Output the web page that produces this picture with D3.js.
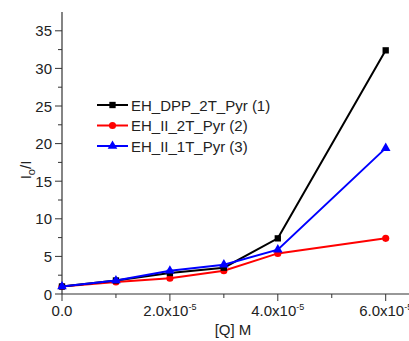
<!DOCTYPE html>
<html>
<head>
<meta charset="utf-8">
<script src="https://cdn.jsdelivr.net/npm/d3@7"></script>
<style>
  body { margin: 0; background: #fff; }
  text { font-family: "Liberation Sans", Arial, sans-serif; fill: #222; }
</style>
</head>
<body>
<div id="chart"></div>
<script>
// Quencher concentration (M) and I0/I values
const conc = [0, 1e-5, 2e-5, 3e-5, 4e-5, 6e-5];
const dpp2t = [1.0, 1.8, 2.8, 3.5, 7.4, 32.4];
const ii2t = [1.0, 1.6, 2.1, 3.1, 5.4, 7.4];
const ii1t = [1.0, 1.8, 3.1, 3.9, 5.9, 19.4];
const seriesNames = ["EH_DPP_2T_Pyr (1)", "EH_II_2T_Pyr (2)", "EH_II_1T_Pyr (3)"];
const seriesColors = ["#000000", "#ff0000", "#0000ff"];
const seriesShapes = [d3.symbolSquare, d3.symbolCircle, d3.symbolTriangle];
const xTicks = [0, 2e-5, 4e-5, 6e-5];
const yTicks = [0, 5, 10, 15, 20, 25, 30, 35];

const width = 409, height = 341;
const margin = { left: 62, top: 12, right: 0, bottom: 47 };
const fs = 15;

const svg = d3.select("#chart").append("svg").attr("width", width).attr("height", height);

const x = d3.scaleLinear().domain([0, 6e-5]).range([margin.left, 385.7]);
const y = d3.scaleLinear().domain([0, 37.5]).range([height - margin.bottom, margin.top]);

// x axis
const xAxis = svg.append("g").attr("transform", `translate(0,${y(0)})`);
xAxis.append("line").attr("x1", margin.left).attr("x2", width).attr("stroke", "#333").attr("stroke-width", 1.2);
xAxis.selectAll(".minor").data(d3.range(1e-5, 7.5e-5, 2e-5)).enter().append("line")
  .attr("x1", (d) => x(d)).attr("x2", (d) => x(d)).attr("y1", 0).attr("y2", 4).attr("stroke", "#333");
xAxis.selectAll(".major").data(xTicks).enter().append("line")
  .attr("x1", (d) => x(d)).attr("x2", (d) => x(d)).attr("y1", 0).attr("y2", 7).attr("stroke", "#333");
const xl = xAxis.selectAll(".lab").data(xTicks).enter().append("text")
  .attr("x", (d) => x(d)).attr("y", 22).attr("text-anchor", "middle").attr("font-size", fs);
xl.each(function (d) {
  const t = d3.select(this);
  if (d === 0) { t.text("0.0"); return; }
  t.append("tspan").text((d * 1e5).toFixed(1) + "x10");
  t.append("tspan").attr("dy", -6).attr("font-size", 9).text("-5");
});
svg.append("text").attr("x", 233).attr("y", 335).attr("text-anchor", "middle").attr("font-size", fs).text("[Q] M");

// y axis
const yAxis = svg.append("g").attr("transform", `translate(${margin.left},0)`);
yAxis.append("line").attr("y1", y(37.5)).attr("y2", y(0)).attr("stroke", "#333").attr("stroke-width", 1.2);
yAxis.selectAll(".minor").data(d3.range(2.5, 37.5, 5)).enter().append("line")
  .attr("y1", (d) => y(d)).attr("y2", (d) => y(d)).attr("x1", 0).attr("x2", -4).attr("stroke", "#333");
yAxis.selectAll(".major").data(yTicks).enter().append("line")
  .attr("y1", (d) => y(d)).attr("y2", (d) => y(d)).attr("x1", 0).attr("x2", -7).attr("stroke", "#333");
yAxis.selectAll(".lab").data(yTicks).enter().append("text")
  .attr("x", -10).attr("y", (d) => y(d) + 5.5).attr("text-anchor", "end").attr("font-size", fs).text((d) => d);
const ylab = svg.append("text").attr("transform", "translate(31,170) rotate(-90)")
  .attr("text-anchor", "middle").attr("font-size", fs);
ylab.append("tspan").text("I");
ylab.append("tspan").attr("dy", 4).attr("font-size", 11).text("o");
ylab.append("tspan").attr("dy", -4).text("/I");

// series
const allSeries = [dpp2t, ii2t, ii1t];
const line = d3.line().x((d, i) => x(conc[i])).y((d) => y(d));
const order = [1, 0, 2];
order.forEach((s) => {
  const vals = allSeries[s];
  svg.append("path").attr("d", line(vals)).attr("fill", "none")
    .attr("stroke", seriesColors[s]).attr("stroke-width", 2);
  svg.selectAll(".pt" + s).data(vals).enter().append("path")
    .attr("transform", (d, i) => `translate(${x(conc[i])},${y(d)})`)
    .attr("d", d3.symbol().type(seriesShapes[s]).size(40))
    .attr("fill", seriesColors[s]);
});

// legend
const legend = svg.append("g");
seriesNames.forEach((name, i) => {
  const ly = 105 + i * 20.5;
  legend.append("line").attr("x1", 97).attr("x2", 128).attr("y1", ly).attr("y2", ly)
    .attr("stroke", seriesColors[i]).attr("stroke-width", 2);
  legend.append("path").attr("transform", `translate(112.5,${ly})`)
    .attr("d", d3.symbol().type(seriesShapes[i]).size(40)).attr("fill", seriesColors[i]);
  legend.append("text").attr("x", 131).attr("y", ly + 5.5).attr("font-size", fs).text(name);
});
</script>
</body>
</html>
